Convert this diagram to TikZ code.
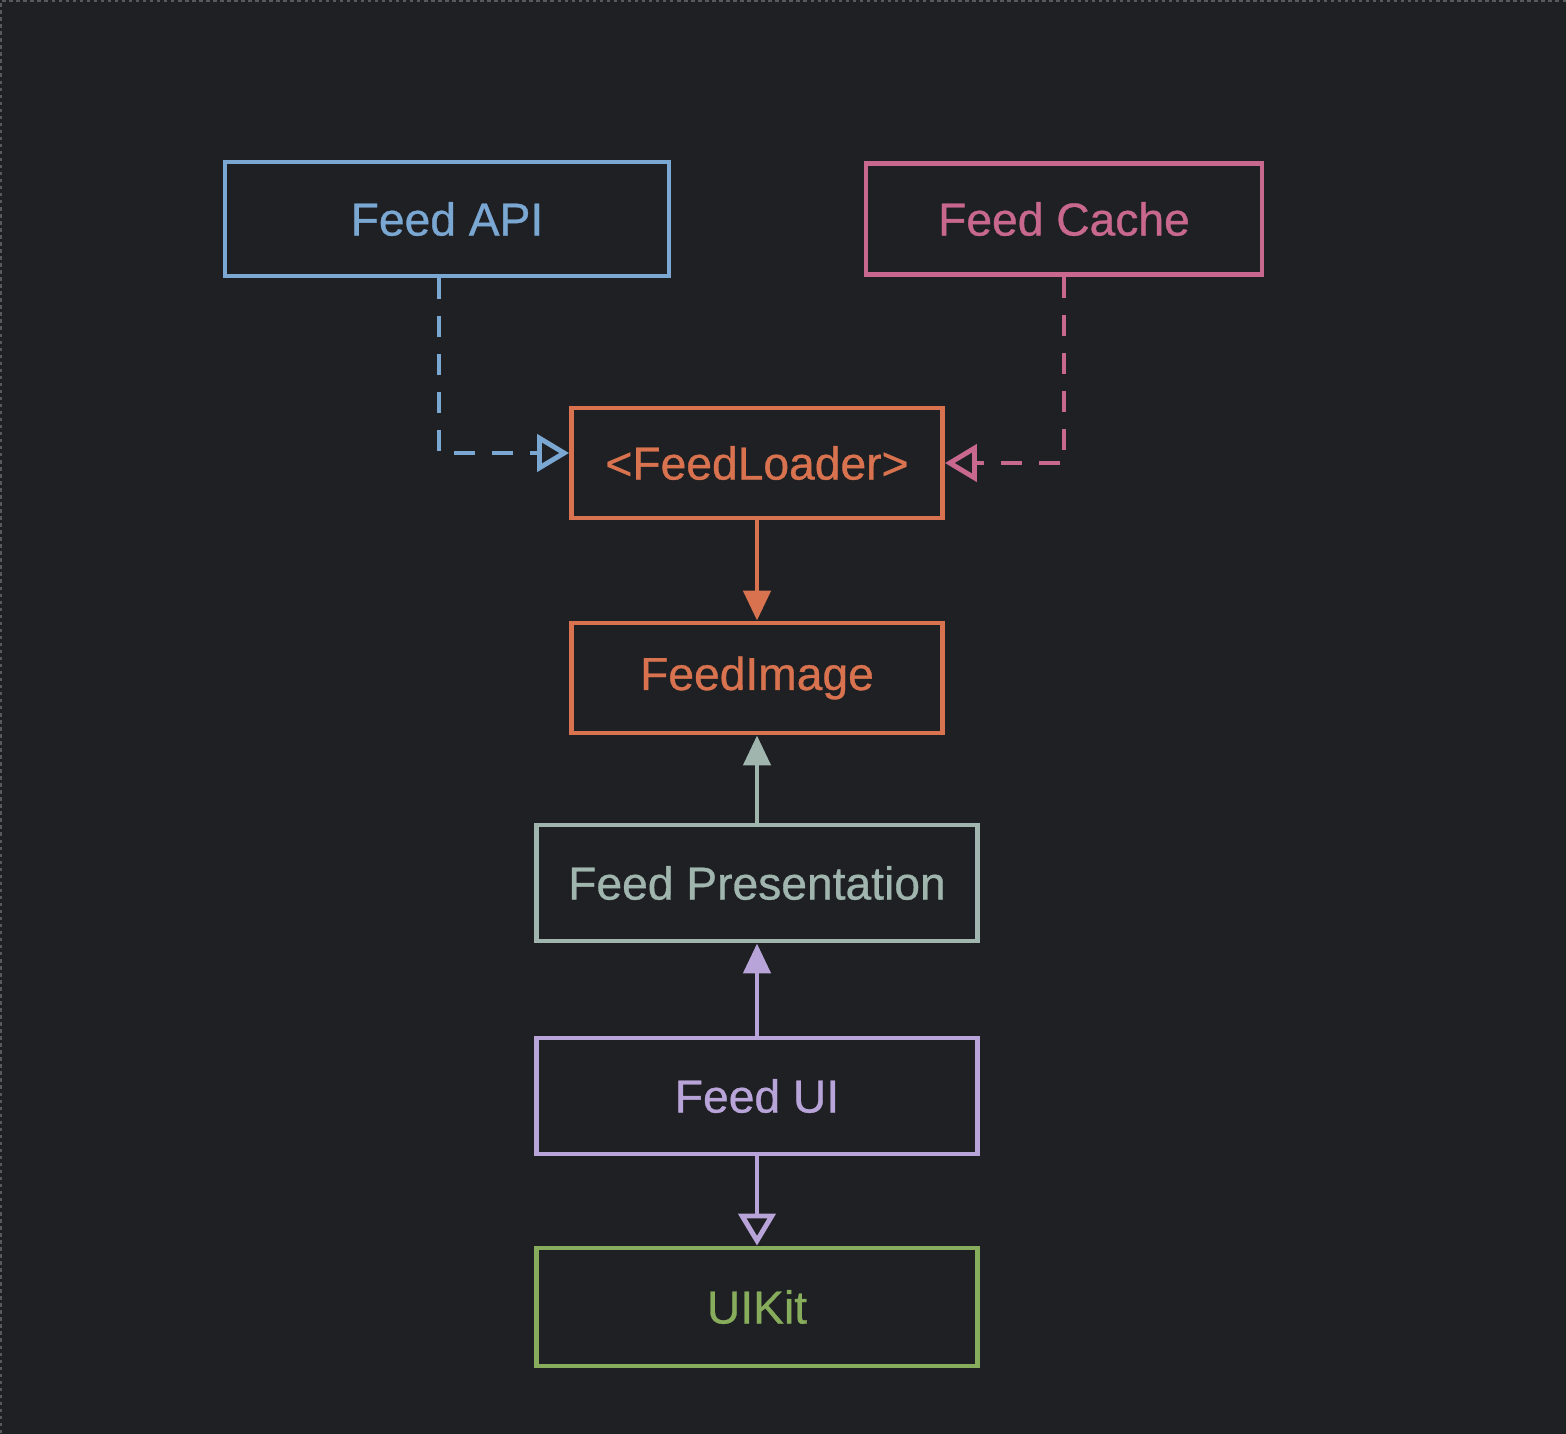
\documentclass[tikz,border=0pt]{standalone}
\usepackage{fontspec}
\setmainfont{Liberation Sans}
\newfontfamily\medfont{Liberation Sans}[FakeBold=0.7]
\usetikzlibrary{arrows.meta,calc}
\definecolor{bg}{HTML}{1E2023}
\definecolor{cblue}{HTML}{7BA7D3}
\definecolor{cpink}{HTML}{C9688F}
\definecolor{corange}{HTML}{D9734F}
\definecolor{cgray}{HTML}{9FB5AD}
\definecolor{clav}{HTML}{B9A4D9}
\definecolor{cgreen}{HTML}{86AC5C}
\tikzset{
  box/.style={draw, line width=2.8pt, rectangle, inner sep=0pt, font=\medfont\fontsize{26.3}{32}\selectfont},
  conn/.style={line width=2.8pt},
  dashconn/.style={conn, dash pattern=on 0.42cm off 0.34cm},
  filledtip/.style={-{Triangle[length=0.6cm,width=0.54cm]}},
  opentip/.style={-{Triangle[open,length=0.64cm,width=0.74cm,line width=2.8pt]}},
}
\begin{document}
\begin{tikzpicture}[x=0.02cm,y=-0.02cm]
\fill[bg] (0,0) rectangle (1566,1434);
\useasboundingbox (0,0) rectangle (1566,1434);
\draw[gray!60!bg, line width=0.6pt, dash pattern=on 2pt off 2pt] (1566,1) -- (1,1) -- (1,1434);

\node[box, draw=cblue, text=cblue, minimum width=444*0.02cm, minimum height=114*0.02cm] (api) at (447,219) {Feed API};
\node[box, draw=cpink, text=cpink, minimum width=396*0.02cm, minimum height=111*0.02cm] (cache) at (1064,219) {Feed Cache};
\node[box, draw=corange, text=corange, minimum width=371*0.02cm, minimum height=110*0.02cm] (loader) at (757,463) {<FeedLoader>};
\node[box, draw=corange, text=corange, minimum width=371*0.02cm, minimum height=110*0.02cm] (image) at (757,678) {FeedImage};
\node[box, draw=cgray, text=cgray, minimum width=441*0.02cm, minimum height=116*0.02cm] (pres) at (757,883) {Feed Presentation};
\node[box, draw=clav, text=clav, minimum width=441*0.02cm, minimum height=116*0.02cm] (ui) at (757,1096) {Feed UI};
\node[box, draw=cgreen, text=cgreen, minimum width=441*0.02cm, minimum height=118*0.02cm] (uikit) at (757,1307) {UIKit};

\draw[dashconn, cblue, opentip] ([xshift=-0.16cm]api.south) |- ([yshift=0.2cm]loader.west);
\draw[dashconn, cpink, opentip] (cache.south) |- (loader.east);
\draw[conn, corange, filledtip] (loader.south) -- (image.north);
\draw[conn, cgray, filledtip] (pres.north) -- (image.south);
\draw[conn, clav, filledtip] (ui.north) -- (pres.south);
\draw[conn, clav, opentip] (ui.south) -- (uikit.north);
\end{tikzpicture}
\end{document}
